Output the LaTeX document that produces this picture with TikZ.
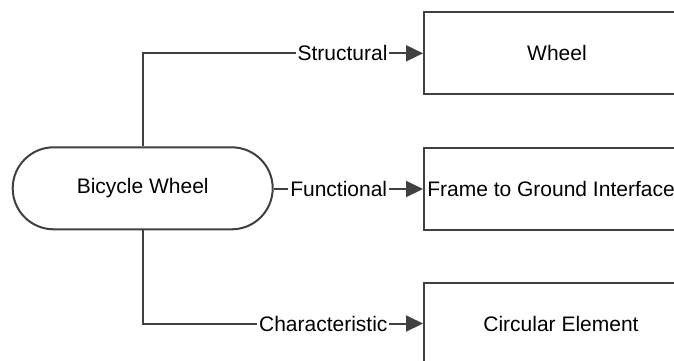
\documentclass[tikz,border=0pt]{standalone}
\usepackage{fontspec}
\setmainfont{Liberation Sans}
\usetikzlibrary{arrows.meta}
\definecolor{edgegray}{HTML}{404040}
\begin{document}
\begin{tikzpicture}[x=1pt,y=-1pt,
  font=\fontsize{21}{25}\selectfont,
  every node/.style={text=black},
  term/.style={draw=edgegray, line width=2pt, fill=white, rounded corners=41pt,
    minimum width=260pt, minimum height=82pt, inner sep=0pt},
  concept/.style={draw=edgegray, line width=2pt, fill=white,
    minimum width=266pt, minimum height=82pt, inner sep=0pt},
  link/.style={draw=edgegray, line width=2pt,
    -{Triangle[length=17pt,width=16pt]}},
  tag/.style={fill=white, inner xsep=2pt, inner ysep=1pt, anchor=east}]
  \useasboundingbox (0,0) rectangle (674,360);

  % source term and the three categorised targets
  \node[term] (bw) at (142.7,188.3) {Bicycle Wheel};
  \node[concept] (wheel) at (557,53.3) {Wheel};
  \node[concept] (iface) at (557,189)
    {\hspace*{-6pt}Frame to Ground Interface\hspace*{6pt}};
  \node[concept] (circ) at (557,323.5)
    {\hspace*{4pt}Circular Element\hspace*{-4pt}};

  % labelled relations
  \draw[link] (bw.north) |- node[tag, pos=0.942] {Structural} (wheel.west);
  \draw[link] (bw.east |- iface.west) -- node[tag, pos=0.78] {Functional} (iface.west);
  \draw[link] (bw.south) |- node[tag, pos=0.942] {Characteristic} (circ.west);
\end{tikzpicture}
\end{document}
